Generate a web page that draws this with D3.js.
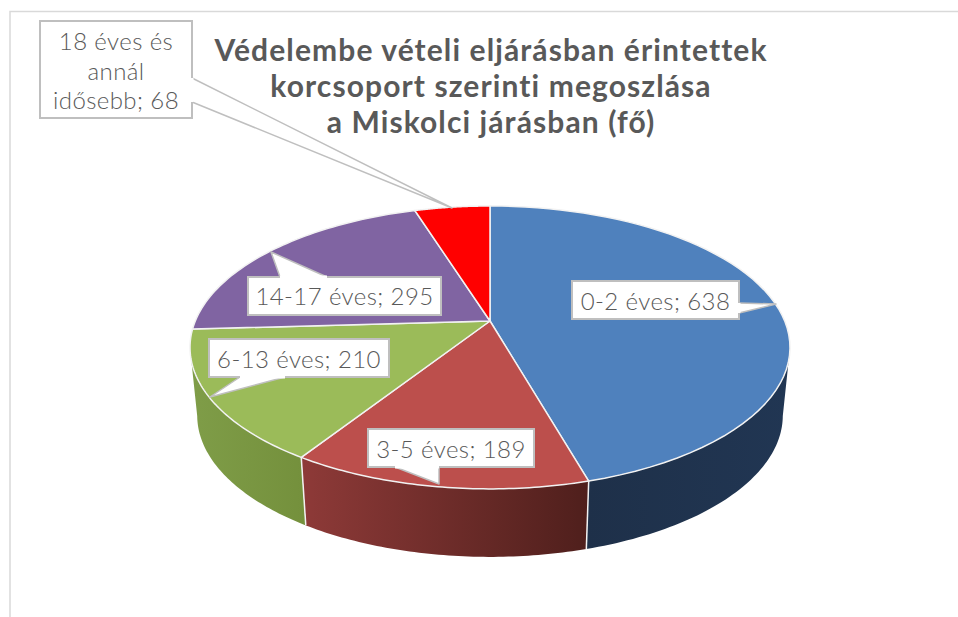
<!DOCTYPE html>
<html>
<head>
<meta charset="utf-8">
<script src="https://cdn.jsdelivr.net/npm/d3@7"></script>
<style>
    html, body { margin: 0; background: #fff; }
    text { font-family: Lato, sans-serif; fill: #595959; }
</style>
</head>
<body>
<script>
const categories = ['0-2 éves', '3-5 éves', '6-13 éves', '14-17 éves', '18 éves és annál idősebb'];
const values = [638, 189, 210, 295, 68];
const titleLines = ['Védelembe vételi eljárásban érintettek', 'korcsoport szerinti megoszlása', 'a Miskolci járásban (fő)'];

const topColors = ['#4f81bd', '#bc4f4c', '#9bbb59', '#8064a2', '#ff0000'];
const wallColors = [['#213653', '#1e3049'], ['#8e3a38', '#4f1f1c'], ['#7f9d48', '#74903c'], null, null];

// callout boxes, pixel layout: box, text lines, pointer
const callouts = [
    { i: 0, box: [572, 281, 167, 38], base: 310, ptr: [[739, 303], [776, 304], [739, 313]] },
    { i: 1, box: [368, 429, 166, 38], base: 458, ptr: [[439, 467], [439, 484], [395, 467]] },
    { i: 2, box: [209, 339, 180, 38], base: 368, ptr: [[285, 377], [210, 397], [240, 377]] },
    { i: 3, box: [248, 277, 193, 38], base: 305, ptr: [[280, 277], [271, 252], [327, 277]] },
    { i: 4, box: [40, 21, 152, 97], base: 50, ptr: [[192, 78], [452, 208], [192, 102]],
      lines: ['18 éves és', 'annál', 'idősebb; 68'] }
];

const width = 958, height = 617;
const cx = 490, cy = 321;      // where the slices meet on screen
const persp = 0.187, scaleX = 294.7, scaleY = 136.5;
const shrink = 0.976, depth = 68;

const svg = d3.select('body').append('svg')
    .attr('width', width)
    .attr('height', height)
    .style('display', 'block');

// circle angle (0 = top, clockwise) -> screen, the disc is seen in perspective
function rim(a) {
    const u = Math.sin(a), v = -Math.cos(a);
    const w = 1 - persp * v;
    return [cx + scaleX * u / w, cy + scaleY * v / w];
}

function lower(p) {
    return [cx + (p[0] - cx) * shrink, p[1] + depth];
}

function samples(a0, a1) {
    return d3.range(0, 61).map(i => rim(a0 + (a1 - a0) * i / 60));
}

const slices = d3.pie().sort(null)(values);
const line = d3.line();

svg.append('path')
    .attr('d', `M10,617V11.5H958`)
    .attr('fill', 'none')
    .attr('stroke', '#d9d9d9')
    .attr('stroke-width', 1.5);

const defs = svg.append('defs');
// the disc is widest here, the side wall only shows between these two angles
const wallFrom = 101 * Math.PI / 180, wallTo = 259 * Math.PI / 180;

slices.forEach((s, i) => {
    if (!wallColors[i]) return;
    const a0 = Math.max(s.startAngle, wallFrom);
    const a1 = Math.min(s.endAngle, wallTo);
    const upper = samples(a0, a1);
    const bottom = upper.map(lower).reverse();
    const xs = upper.concat(bottom).map(p => p[0]);
    // gradient runs left to right on screen
    const grad = defs.append('linearGradient')
        .attr('id', `wall${i}`)
        .attr('gradientUnits', 'userSpaceOnUse')
        .attr('x1', d3.min(xs)).attr('x2', d3.max(xs))
        .attr('y1', 0).attr('y2', 0);
    const pair = i === 0 ? wallColors[i].slice().reverse() : wallColors[i];
    grad.append('stop').attr('offset', 0).attr('stop-color', pair[0]);
    grad.append('stop').attr('offset', 1).attr('stop-color', pair[1]);
    svg.append('path')
        .attr('d', line(upper.concat(bottom)) + 'Z')
        .attr('fill', `url(#wall${i})`);
});

// white seams on the side wall
[slices[0].endAngle, slices[1].endAngle].forEach(a => {
    const p = rim(a);
    svg.append('path')
        .attr('d', line([p, lower(p)]))
        .attr('stroke', '#f2f2f2')
        .attr('stroke-width', 1.5);
});

svg.selectAll('path.slice')
    .data(slices)
    .join('path')
    .attr('class', 'slice')
    .attr('d', d => line([[cx, cy], ...samples(d.startAngle, d.endAngle)]) + 'Z')
    .attr('fill', (d, i) => topColors[i])
    .attr('stroke', '#f2f2f2')
    .attr('stroke-width', 1.5)
    .attr('stroke-linejoin', 'round');

// callouts
const group = svg.selectAll('g.callout')
    .data(callouts)
    .join('g')
    .attr('class', 'callout');

group.append('rect')
    .attr('x', d => d.box[0]).attr('y', d => d.box[1])
    .attr('width', d => d.box[2]).attr('height', d => d.box[3])
    .attr('fill', '#fff')
    .attr('stroke', '#bfbfbf')
    .attr('stroke-width', 2);

group.append('path')
    .attr('d', d => line(d.ptr))
    .attr('fill', '#fff')
    .attr('stroke', '#bfbfbf')
    .attr('stroke-width', 1.5)
    .attr('stroke-linejoin', 'round');

// white strip hides the box border under the pointer mouth
group.append('line')
    .attr('x1', d => d.ptr[0][0]).attr('y1', d => d.ptr[0][1])
    .attr('x2', d => d.ptr[2][0]).attr('y2', d => d.ptr[2][1])
    .attr('stroke', '#fff')
    .attr('stroke-width', 3);

group.each(function (d) {
    const lines = d.lines || [`${categories[d.i]}; ${values[d.i]}`];
    d3.select(this).selectAll('text')
        .data(lines)
        .join('text')
        .attr('x', d.box[0] + d.box[2] / 2)
        .attr('y', (t, j) => d.base + j * 29.5)
        .attr('text-anchor', 'middle')
        .attr('font-size', 24)
        .attr('font-weight', 300)
        .attr('letter-spacing', 0.4)
        .text(t => t);
});

svg.selectAll('text.title')
    .data(titleLines)
    .join('text')
    .attr('class', 'title')
    .attr('x', cx + 1)
    .attr('y', (t, j) => 61 + j * 36)
    .attr('text-anchor', 'middle')
    .attr('font-size', 30)
    .attr('font-weight', 700)
    .attr('letter-spacing', 1.1)
    .text(t => t);
</script>
</body>
</html>
